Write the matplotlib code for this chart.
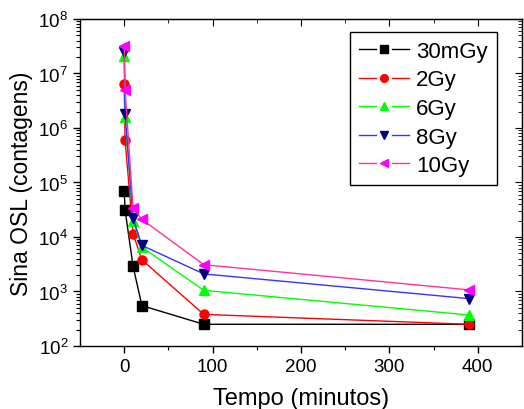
import matplotlib.pyplot as plt
from matplotlib.lines import Line2D
from matplotlib.legend_handler import HandlerBase

plt.rcParams['font.family'] = ['Liberation Sans', 'DejaVu Sans']

# tempo (minutos)
tempo = [0, 1, 10, 20, 90, 390]

# Sina OSL (contagens)
s_30mGy = [6.9e4, 3.1e4, 2.9e3, 550, 250, 250]
s_2Gy = [6.4e6, 6.0e5, 1.15e4, 3.8e3, 380, 250]
s_6Gy = [2.1e7, 1.6e6, 2.0e4, 6.5e3, 1.05e3, 370]
s_8Gy = [2.5e7, 1.8e6, 2.2e4, 7.0e3, 2.1e3, 740]
s_10Gy = [3.2e7, 5.0e6, 3.4e4, 2.1e4, 3.1e3, 1.07e3]

labels = ['30mGy', '2Gy', '6Gy', '8Gy', '10Gy']
series = [s_30mGy, s_2Gy, s_6Gy, s_8Gy, s_10Gy]
line_colors = ['black', '#ff0000', '#00ff00', '#3333ff', '#ff3399']
marker_colors = ['black', '#ff0000', '#00ff00', '#000080', '#ff00ff']
markers = ['s', 'o', '^', 'v', '<']


# legenda estilo Origin: linha - marcador - linha, com espacos
class GapHandler(HandlerBase):
    def create_artists(self, legend, orig_handle, xdescent, ydescent,
                       width, height, fontsize, trans):
        y = height / 2 - ydescent
        x0 = -xdescent
        x1 = x0 + width
        xm = (x0 + x1) / 2
        g = width * 0.16
        lc = orig_handle.get_color()
        mc = orig_handle.get_markerfacecolor()
        l1 = Line2D([x0, xm - g], [y, y], color=lc, lw=1)
        l2 = Line2D([xm + g, x1], [y, y], color=lc, lw=1)
        mk = Line2D([xm], [y], ls='none', marker=orig_handle.get_marker(),
                    markersize=5.5, markerfacecolor=mc, markeredgecolor=mc)
        for a in (l1, l2, mk):
            a.set_transform(trans)
        return [l1, l2, mk]


fig = plt.figure(figsize=(5.24, 4.10), dpi=100)
ax = fig.add_axes([0.1527, 0.1537, 0.8435, 0.7976])

handles = []
for y, lab, lc, mc, m in zip(series, labels, line_colors, marker_colors, markers):
    h, = ax.plot(tempo, y, color=lc, lw=1, marker=m, markersize=6.5,
                 markerfacecolor=mc, markeredgecolor=mc, label=lab)
    handles.append(h)

ax.set_yscale('log')
ax.set_ylim(1e2, 1e8)
ax.set_xlim(-50, 450)
ax.set_xticks([0, 100, 200, 300, 400])
ax.set_xticks([50, 150, 250, 350], minor=True)
ax.set_yticks([1e2, 1e3, 1e4, 1e5, 1e6, 1e7, 1e8])

ax.tick_params(axis='both', which='major', direction='out', length=5, width=1,
               labelsize=13.5)
ax.tick_params(axis='both', which='minor', direction='out', length=3, width=0.8)

# eixos espelhados (ticks para dentro)
top = ax.secondary_xaxis('top')
top.set_xticks([0, 100, 200, 300, 400])
top.set_xticks([50, 150, 250, 350], minor=True)
top.tick_params(which='both', direction='in', labeltop=False)
top.tick_params(which='major', length=5)
top.tick_params(which='minor', length=3)
right = ax.secondary_yaxis('right')
right.set_yticks([1e2, 1e3, 1e4, 1e5, 1e6, 1e7, 1e8])
right.tick_params(which='both', direction='in', labelright=False)
right.tick_params(which='major', length=5)
right.tick_params(which='minor', length=3)

for sp in ax.spines.values():
    sp.set_linewidth(1)

ax.set_xlabel('Tempo (minutos)', fontsize=17)
ax.set_ylabel('Sina OSL (contagens)', fontsize=16.5)
ax.xaxis.set_label_coords(0.5, -0.125)
ax.yaxis.set_label_coords(-0.106, 0.5)

leg = ax.legend(handles=handles, handler_map={Line2D: GapHandler()},
                loc='upper right', bbox_to_anchor=(0.943, 0.96), fontsize=16,
                handlelength=2.25, handletextpad=0.32, borderaxespad=0,
                fancybox=False, edgecolor='black', framealpha=1,
                borderpad=0.4, labelspacing=0.34)
leg.get_frame().set_linewidth(1)

fig.savefig('out.png', dpi=100)
